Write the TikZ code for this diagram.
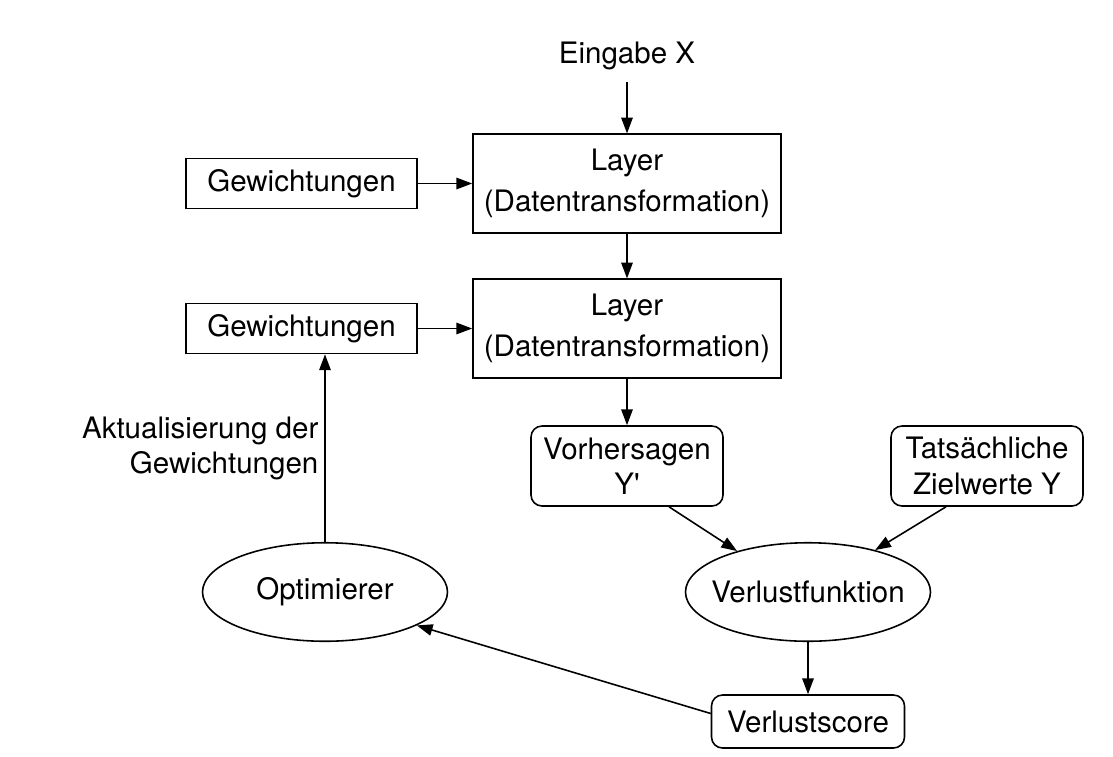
\documentclass[tikz,border=0pt]{standalone}
\usepackage{fontspec}
\setsansfont{TeX Gyre Heros}[Ligatures=TeXOff]
\usetikzlibrary{arrows.meta, shapes.geometric}

\begin{document}
\begin{tikzpicture}[font=\sffamily\fontsize{16.8}{20}\selectfont, line width=0.9pt, >={Triangle[length=9pt, width=6.5pt]},
	box/.style={draw, rectangle, align=center, inner sep=0pt},
	rbox/.style={box, rounded corners=0.22cm, minimum width=3.84cm, minimum height=1.6cm},
	oval/.style={draw, ellipse, inner ysep=0pt, inner xsep=-0.22cm, minimum width=4.9cm, minimum height=1.97cm}]
	\useasboundingbox (0, 0) rectangle (22.26, -15.12);
	
	% Eingabe und Layer
	\node (eingabe) at (12.54, -1.12) {Eingabe X};
	\node[box, minimum width=6.16cm, minimum height=1.97cm] (layer1) at (12.54, -3.67) {Layer\\[3pt](Datentransformation)};
	\node[box, minimum width=6.16cm, minimum height=1.97cm] (layer2) at (12.54, -6.57) {Layer\\[3pt](Datentransformation)};
	\node[box, minimum width=4.62cm, minimum height=1cm] (gew1) at (6.03, -3.67) {Gewichtungen};
	\node[box, minimum width=4.62cm, minimum height=1cm] (gew2) at (6.03, -6.57) {Gewichtungen};
	
	% Vorhersagen und Verlust
	\node[rbox] (vorher) at (12.54, -9.32) {Vorhersagen\\Y'};
	\node[rbox] (ziel) at (19.74, -9.32) {Tatsächliche\\Zielwerte Y};
	\node[oval] (verlust) at (16.16, -11.84) {Verlustfunktion};
	\node[oval] (optim) at (6.5, -11.84) {Optimierer};
	\node[rbox, minimum width=3.86cm, minimum height=1.06cm] (score) at (16.16, -14.43) {Verlustscore};
	
	\draw[->, shorten <=3pt] (eingabe) -- (layer1);
	\draw[->] (gew1) -- (layer1);
	\draw[->] (layer1) -- (layer2);
	\draw[->] (gew2) -- (layer2);
	\draw[->] (layer2) -- (vorher);
	\draw[->] ([xshift=0.84cm]vorher.south) -- (verlust.150);
	\draw[->] ([xshift=-0.82cm]ziel.south) -- (verlust.32);
	\draw[->] (verlust) -- (score);
	\draw[->] ([yshift=0.16cm]score.west) -- (optim.-20);
	\draw[->] (optim.north) -- (optim.north |- gew2.south) node[midway, left, align=right] (update) {Aktualisierung der\\Gewichtungen};
\end{tikzpicture}
\end{document}
